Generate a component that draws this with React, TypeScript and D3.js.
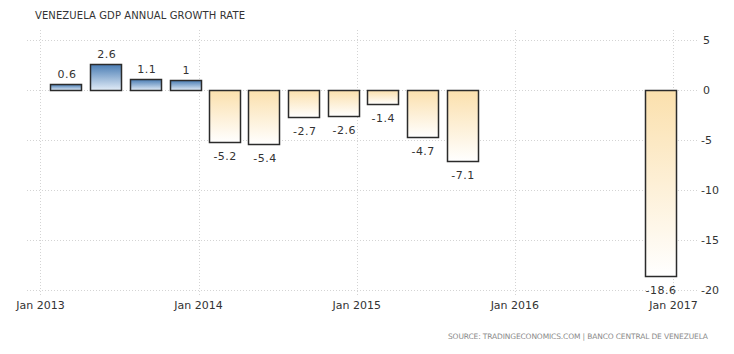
import React, { useEffect, useRef } from "react";
import * as d3 from "d3";

// quarterly readings, dated on the quarter's last month
const dates = [
  "2013-03-01", "2013-06-01", "2013-09-01", "2013-12-01",
  "2014-03-01", "2014-06-01", "2014-09-01", "2014-12-01",
  "2015-03-01", "2015-06-01", "2015-09-01", "2016-12-01",
];
const values = [0.6, 2.6, 1.1, 1, -5.2, -5.4, -2.7, -2.6, -1.4, -4.7, -7.1, -18.6];
const labels = ["0.6", "2.6", "1.1", "1", "-5.2", "-5.4", "-2.7", "-2.6", "-1.4", "-4.7", "-7.1", "-18.6"];
const yTicks = [5, 0, -5, -10, -15, -20];
const xTicks = ["2013-01-01", "2014-01-01", "2015-01-01", "2016-01-01", "2017-01-01"];

const App = () => {
  const ref = useRef<SVGSVGElement>(null);

  useEffect(() => {
    const svg = d3.select(ref.current);
    svg.selectAll("*").remove();
    const font = "Tahoma, 'DejaVu Sans', Verdana, sans-serif";

    const parse = d3.utcParse("%Y-%m-%d");
    const x = d3
      .scaleUtc()
      .domain([parse("2012-12-01")!, parse("2017-03-01")!])
      .range([27, 699]);
    const y = d3.scaleLinear().domain([-20, 5]).range([290, 40]);
    const barW = 31;

    const defs = svg.append("defs");
    const pos = defs.append("linearGradient").attr("id", "gPos").attr("x1", 0).attr("y1", 0).attr("x2", 0).attr("y2", 1);
    pos.append("stop").attr("offset", "0%").attr("stop-color", "#4a7db4");
    pos.append("stop").attr("offset", "100%").attr("stop-color", "#e3edf8");
    const neg = defs.append("linearGradient").attr("id", "gNeg").attr("x1", 0).attr("y1", 0).attr("x2", 0).attr("y2", 1);
    neg.append("stop").attr("offset", "0%").attr("stop-color", "#fbe0ad");
    neg.append("stop").attr("offset", "100%").attr("stop-color", "#ffffff");

    // title
    svg
      .append("text")
      .attr("x", 35)
      .attr("y", 19)
      .attr("textLength", 210)
      .style("font-family", font)
      .style("font-size", "10px")
      .style("fill", "#333")
      .text("VENEZUELA GDP ANNUAL GROWTH RATE");

    // horizontal grid
    svg
      .selectAll(".hgrid")
      .data(yTicks)
      .join("line")
      .attr("x1", 27)
      .attr("x2", 699)
      .attr("y1", (d) => y(d) + 0.5)
      .attr("y2", (d) => y(d) + 0.5)
      .attr("stroke", "#d4d4d4")
      .attr("stroke-dasharray", "1,2");

    // vertical grid
    svg
      .selectAll(".vgrid")
      .data(xTicks)
      .join("line")
      .attr("x1", (d) => Math.round(x(parse(d)!)) + 0.5)
      .attr("x2", (d) => Math.round(x(parse(d)!)) + 0.5)
      .attr("y1", 30)
      .attr("y2", 296)
      .attr("stroke", "#d4d4d4")
      .attr("stroke-dasharray", "1,2");

    // y labels
    svg
      .selectAll(".ylab")
      .data(yTicks)
      .join("text")
      .attr("x", (d) => (d < 0 ? 701 : 703))
      .attr("y", (d) => y(d) + 4)
      .style("font-family", font)
      .style("font-size", "11px")
      .style("fill", "#333")
      .text((d) => d);

    // x labels
    svg
      .selectAll(".xlab")
      .data(xTicks)
      .join("text")
      .attr("x", (d) => x(parse(d)!))
      .attr("y", 309)
      .attr("text-anchor", "middle")
      .style("font-family", font)
      .style("font-size", "11px")
      .style("fill", "#333")
      .text((d) => d3.utcFormat("Jan %Y")(parse(d)!));

    // bars
    const data = dates.map((d, i) => ({ date: parse(d)!, value: values[i], label: labels[i] }));
    svg
      .selectAll(".bar")
      .data(data)
      .join("rect")
      .attr("x", (d) => Math.round(x(d.date) - barW / 2) + 0.5)
      .attr("y", (d) => Math.round(y(Math.max(0, d.value))) + 0.5)
      .attr("width", barW)
      .attr("height", (d) => Math.round(Math.abs(y(d.value) - y(0))))
      .attr("fill", (d) => (d.value >= 0 ? "url(#gPos)" : "url(#gNeg)"))
      .attr("stroke", "#2b2b2b")
      .attr("stroke-width", 1.5);

    // bar labels
    svg
      .selectAll(".blab")
      .data(data)
      .join("text")
      .attr("x", (d) => x(d.date) + 1)
      .attr("y", (d) => (d.value >= 0 ? y(d.value) - 6 : y(d.value) + 18))
      .attr("text-anchor", "middle")
      .style("font-family", font)
      .style("font-size", "11px")
      .style("letter-spacing", "0.5px")
      .style("fill", "#333")
      .text((d) => d.label);

    // source
    svg
      .append("text")
      .attr("x", 708)
      .attr("y", 339)
      .attr("text-anchor", "end")
      .attr("textLength", 260)
      .style("font-family", font)
      .style("font-size", "7.5px")
      .style("fill", "#8a8a8a")
      .text("SOURCE: TRADINGECONOMICS.COM | BANCO CENTRAL DE VENEZUELA");
  }, []);

  return (
    <svg
      ref={ref}
      width={734}
      height={354}
      style={{ position: "absolute", left: 0, top: 0, background: "#fff" }}
    ></svg>
  );
};

export default App;
